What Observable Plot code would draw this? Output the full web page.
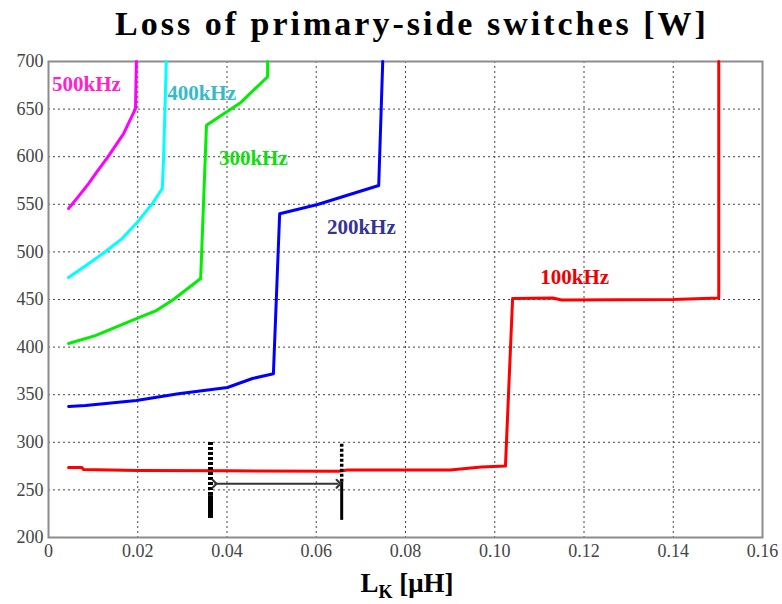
<!DOCTYPE html>
<html>
<head>
<meta charset="utf-8">
<script src="https://cdn.jsdelivr.net/npm/d3@7"></script>
<script src="https://cdn.jsdelivr.net/npm/@observablehq/plot@0.6"></script>
<style>
  html, body { margin: 0; padding: 0; background: #fff; }
  #wrap { width: 782px; height: 604px; position: relative; overflow: hidden; }
  #title { height: 50px; box-sizing: border-box; padding-top: 5px; padding-left: 42px; text-align: center;
           font: bold 34px "Liberation Serif", serif; letter-spacing: 3px; color: #000; line-height: 38px; white-space: nowrap; }
  #xlabel { text-align: center; padding-top: 6px; padding-left: 32px; font: bold 27px "Liberation Serif", serif; color: #000; line-height: 30px; }
  #xlabel sub { font-size: 18px; vertical-align: -6px; }
</style>
</head>
<body>
<div id="wrap">
  <div id="title">Loss of primary-side switches [W]</div>
  <div id="chart"></div>
  <div id="xlabel">L<sub>K</sub> [μH]</div>
</div>
<script>
// ---- data ----
const series = ["500kHz", "400kHz", "300kHz", "200kHz", "100kHz"];
const lineColors = ["#ff00ff", "#00ffff", "#00ee00", "#0000ff", "#ff0000"];
const labelColors = ["#ff22cc", "#33bbcc", "#11dd11", "#333399", "#ee0000"];

const x500 = [0.0045, 0.0065, 0.0087, 0.0110, 0.0132, 0.0168, 0.0195, 0.0197];
const y500 = [545.6, 557, 570, 585, 599, 624, 650.6, 700];

const x400 = [0.0045, 0.0085, 0.0128, 0.0165, 0.0197, 0.0233, 0.0255, 0.0258, 0.0264];
const y400 = [473, 486, 500.4, 514, 530, 550.8, 566.6, 600, 700];

const x300 = [0.0045, 0.0105, 0.0197, 0.0240, 0.0280, 0.0341, 0.0354, 0.0431, 0.0491, 0.0491];
const y300 = [403.8, 412, 430, 438, 450, 472, 633, 657, 684, 700];

const x200 = [0.0045, 0.0083, 0.0197, 0.0291, 0.0401, 0.0457, 0.0504, 0.0518, 0.0603, 0.0740, 0.0746, 0.0749];
const y200 = [337.6, 338.6, 344, 351, 357.6, 367, 372, 540, 549.8, 569.7, 657, 700];

const x100 = [0.0045, 0.0075, 0.0078, 0.020, 0.040, 0.065, 0.067, 0.090, 0.097, 0.1024, 0.1040, 0.113, 0.115, 0.140, 0.1502, 0.1502];
const y100 = [273.5, 273.5, 271.5, 270.5, 270, 269.5, 271, 271, 274, 275, 451, 451.5, 449.5, 450, 451.5, 700];

const labelX = [0.0085, 0.0343, 0.0459, 0.0701, 0.1179];
const labelY = [675.8, 666.4, 598, 525.6, 473];

const xTicks = [0, 0.02, 0.04, 0.06, 0.08, 0.10, 0.12, 0.14, 0.16];
const yTicks = [200, 250, 300, 350, 400, 450, 500, 550, 600, 650, 700];

// annotation (range markers)
const markX = [0.0363, 0.0657];
const markDashTop = [302, 299];
const markDashBottom = [244, 258];
const markSolidBottom = [220, 218];
const arrowY = 256.5;
const arrowX1 = 0.0372, arrowX2 = 0.0650;

// ---- build ----
const xs = [x500, x400, x300, x200, x100];
const ys = [y500, y400, y300, y200, y100];
const rows = [];
series.forEach((s, i) => xs[i].forEach((x, j) => rows.push({series: s, x, y: ys[i][j]})));
const labels = series.map((s, i) => ({series: s, x: labelX[i], y: labelY[i], color: labelColors[i]}));
const colorOf = Object.fromEntries(series.map((s, i) => [s, lineColors[i]]));

const fmtX = d => d === 0 ? "0" : d.toFixed(2);

const chart = Plot.plot({
  width: 782,
  height: 512,
  marginLeft: 48,
  marginRight: 20,
  marginTop: 11,
  marginBottom: 25,
  style: {fontFamily: "'Liberation Serif', serif", fontSize: "18px", background: "#fff"},
  x: {domain: [0, 0.16]},
  y: {domain: [200, 700]},
  marks: [
    Plot.gridX(xTicks.slice(1, -1), {stroke: "#444", strokeOpacity: 1, strokeDasharray: "2,3", strokeWidth: 1}),
    Plot.gridY(yTicks.slice(1, -1), {stroke: "#444", strokeOpacity: 1, strokeDasharray: "2,3", strokeWidth: 1}),
    Plot.axisX(xTicks, {tickSize: 0, tickPadding: 7, tickFormat: fmtX, fill: "#444", label: null}),
    Plot.axisY(yTicks, {tickSize: 0, tickPadding: 5, fill: "#444", label: null}),
    Plot.frame({stroke: "#8c8c8c", strokeWidth: 2}),
    Plot.line(rows, {x: "x", y: "y", z: "series", stroke: d => colorOf[d.series], strokeWidth: 3}),
    Plot.text(labels, {x: "x", y: "y", text: "series", fill: "color", fontWeight: "bold", fontSize: 21, letterSpacing: "0.5px"}),
    Plot.ruleX(markX.map((x, i) => ({x, y1: markDashBottom[i], y2: markDashTop[i], w: i === 0 ? 5 : 3.5})),
      {x: "x", y1: "y1", y2: "y2", stroke: "#000", strokeWidth: "w", strokeDasharray: "3,2"}),
    Plot.ruleX(markX.map((x, i) => ({x, y1: markSolidBottom[i], y2: markDashBottom[i], w: i === 0 ? 5 : 3})),
      {x: "x", y1: "y1", y2: "y2", stroke: "#000", strokeWidth: "w"}),
    Plot.link([{x1: arrowX1, x2: arrowX2, y: arrowY}],
      {x1: "x1", x2: "x2", y1: "y", y2: "y", stroke: "#333", strokeWidth: 2, markerStart: "arrow", markerEnd: "arrow"})
  ]
});
document.getElementById("chart").appendChild(chart);
</script>
</body>
</html>
